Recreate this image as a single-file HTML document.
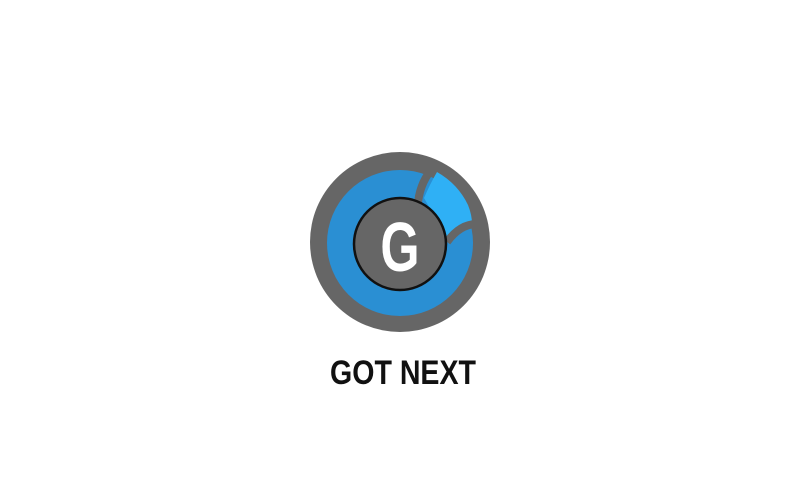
<!DOCTYPE html>
<html><head><meta charset="utf-8"><style>
html,body{margin:0;padding:0;background:#fff;width:800px;height:480px;overflow:hidden}
</style></head><body>
<svg width="800" height="480" viewBox="0 0 800 480">
  <circle cx="400" cy="242" r="90" fill="#666666"/>
  <circle cx="400" cy="243" r="73" fill="#2a8fd3"/>
  <path d="M424 198 Q430 184 437 172 Q458 184 468 205 Q472 215 472 224 Q458 226 447 238 Z" fill="#2fb0f5"/>
  <path d="M434 167 Q421 180 418 202" stroke="#666666" stroke-width="8" fill="none"/>
  <path d="M477 224 Q460 224 447 242" stroke="#666666" stroke-width="8" fill="none"/>
  <circle cx="400" cy="244" r="46" fill="#666666" stroke="#111" stroke-width="2.5"/>
  <text x="400" y="271" text-anchor="middle" font-family="'Liberation Sans', sans-serif" font-weight="bold" font-size="70" fill="#fff" transform="translate(400 0) scale(0.72 1) translate(-400 0)">G</text>
  <text x="403" y="384" text-anchor="middle" font-family="'Liberation Sans', sans-serif" font-weight="bold" font-size="34" fill="#111" transform="translate(403 0) scale(0.84 1) translate(-403 0)">GOT NEXT</text>
</svg>
</body></html>
